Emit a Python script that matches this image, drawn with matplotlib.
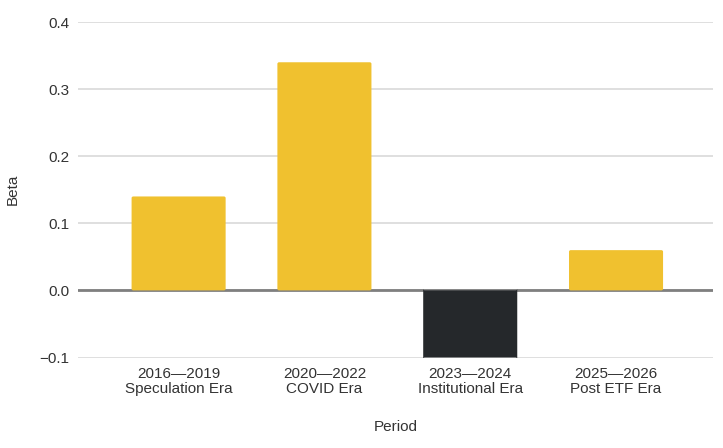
import matplotlib.pyplot as plt
from matplotlib.patches import FancyBboxPatch

plt.rcParams['font.family'] = ['Liberation Sans', 'DejaVu Sans']

periods = ["2016—2019\nSpeculation Era", "2020—2022\nCOVID Era",
           "2023—2024\nInstitutional Era", "2025—2026\nPost ETF Era"]
beta = [0.14, 0.34, -0.10, 0.06]
yticks = [-0.1, 0.0, 0.1, 0.2, 0.3, 0.4]

yellow = '#F0C12F'
dark = '#25282B'
colors = [yellow if b >= 0 else dark for b in beta]

fig = plt.figure(figsize=(7.23, 4.48), dpi=100)
ax = fig.add_axes([78/723, 1 - 357.5/448, (713-78)/723, (357.5-22)/448])

x = list(range(len(periods)))
bars = ax.bar(x, beta, width=0.645, color=colors, zorder=3)
# rounded corners
for b in list(bars):
    bb = b.get_bbox()
    p = FancyBboxPatch((bb.x0, bb.y0), bb.width, bb.height,
                       boxstyle="round,pad=0,rounding_size=0.012",
                       mutation_aspect=0.5/4.35 * 635/335.5 * 0.9,
                       facecolor=b.get_facecolor(), edgecolor='none', zorder=3)
    b.remove()
    ax.add_patch(p)

ax.set_xlim(-0.69, 3.665)
ax.set_ylim(-0.1, 0.4)
ax.set_yticks(yticks)
ax.set_yticklabels([f"{t:.1f}".replace('-', '−') for t in yticks])
ax.set_xticks(x)
ax.set_xticklabels(periods, linespacing=1.1)
ax.grid(axis='y', color='#DCDCDC', linewidth=1.3, zorder=0)
ax.axhline(0, color='#7F7F7F', linewidth=2, zorder=2)
for s in ax.spines.values():
    s.set_visible(False)
ax.tick_params(axis='both', length=0, labelsize=11, colors='#333333', pad=6)
ax.tick_params(axis='x', pad=7)
ax.set_ylabel('Beta', fontsize=11, color='#333333', labelpad=14)
ax.set_xlabel('Period', fontsize=11, color='#333333', labelpad=17)

fig.savefig('out.png', dpi=100, facecolor='white')
